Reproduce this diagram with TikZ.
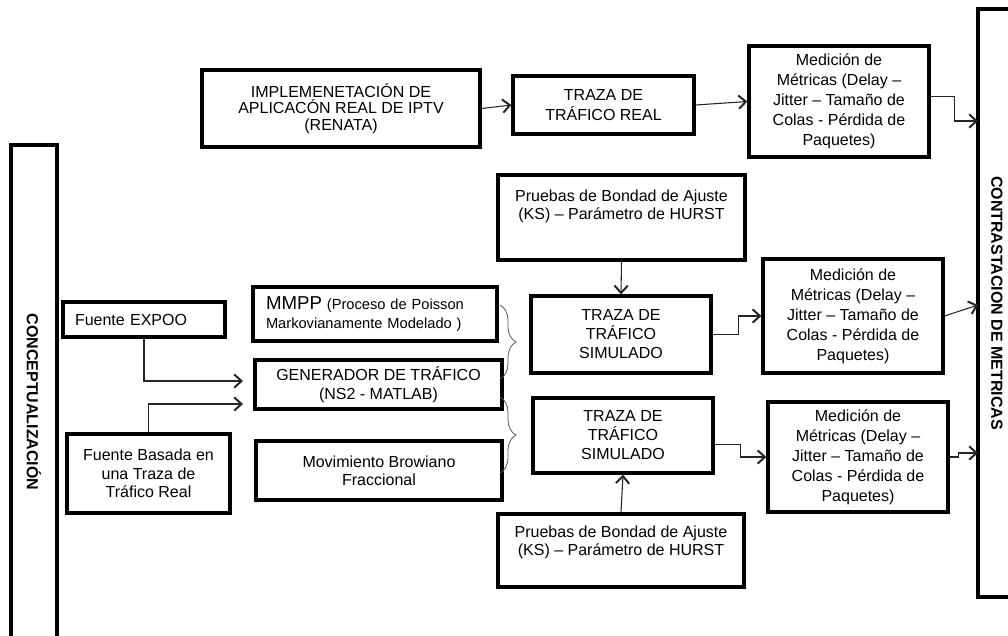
\documentclass[tikz,border=0pt]{standalone}
\usepackage{fontspec}
\setmainfont{Liberation Sans}
\usetikzlibrary{arrows.meta,decorations.pathreplacing}

\begin{document}
\begin{tikzpicture}[x=0.75pt,y=-0.75pt,
        box/.style={draw, line width=2.4pt, align=center, inner sep=0pt, font=\fontsize{12}{14}\selectfont},
        med/.style={box, minimum width=135pt, font=\fontsize{12}{15}\selectfont},
        side/.style={draw, line width=2.4pt, rotate=-90, inner sep=0pt, font=\fontsize{12}{14}\selectfont\bfseries},
        conn/.style={draw, black!85, line width=0.8pt, -{Straight Barb[length=5.5pt,width=10pt,line width=1.5pt]}},
        brc/.style={draw, black!65, line width=0.6pt, decorate, decoration={brace, amplitude=12pt}}]
        \useasboundingbox (0,0) rectangle (1008,636);
        \node[side, minimum width=385.5pt, minimum height=34.5pt] (concep) at (34,402) {CONCEPTUALIZACIÓN};
        \node[side, minimum width=441pt, minimum height=28.5pt] (contrast) at (997,303) {CONTRASTACION DE METRICAS};
        \coordinate (c1) at (978,121);
        \coordinate (c2) at (978,305);
        \coordinate (c3) at (978,453);

        \node[box, minimum width=208.5pt, minimum height=57.75pt, font=\fontsize{12}{12.5}\selectfont] (impl) at (341,108.5) {IMPLEMENETACIÓN DE\\APLICACÓN REAL DE IPTV\\(RENATA)};
        \node[box, minimum width=135.75pt, minimum height=43.5pt, font=\fontsize{12}{15}\selectfont] (trazareal) at (603.5,105) {TRAZA DE\\TRÁFICO REAL};
        \node[med, minimum height=83.25pt] (med1) at (839,101.5) {Medición de\\Métricas (Delay –\\Jitter – Tamaño de\\Colas - Pérdida de\\Paquetes)};

        \node[box, minimum width=185.25pt, text height=33pt, text depth=30.75pt, font=\fontsize{12}{13.5}\selectfont] (prueba1) at (621.5,217.5) {Pruebas de Bondad de Ajuste\\(KS) – Parámetro de HURST};
        \node[box, minimum width=135pt, minimum height=57.75pt, font=\fontsize{12}{14.25}\selectfont] (trazasim1) at (621,334.5) {TRAZA DE\\TRÁFICO\\SIMULADO};
        \node[med, minimum height=85.5pt] (med2) at (853,316) {Medición de\\Métricas (Delay –\\Jitter – Tamaño de\\Colas - Pérdida de\\Paquetes)};

        \node[box, minimum width=135pt, minimum height=56.25pt, font=\fontsize{12}{14.25}\selectfont] (trazasim2) at (623,435.5) {TRAZA DE\\TRÁFICO\\SIMULADO};
        \node[med, minimum height=82.5pt] (med3) at (858,457) {Medición de\\Métricas (Delay –\\Jitter – Tamaño de\\Colas - Pérdida de\\Paquetes)};
        \node[box, minimum width=184.5pt, text height=30.75pt, text depth=24pt, font=\fontsize{12}{13.5}\selectfont] (prueba2) at (621,550.5) {Pruebas de Bondad de Ajuste\\(KS) – Parámetro de HURST};

        \node[box, align=left, text width=163.5pt, inner xsep=9.75pt, minimum height=40.5pt, font=\fontsize{11}{14}\selectfont] (mmpp) at (375,314) {{\fontsize{14}{14}\selectfont MMPP} (Proceso de Poisson\\Markovianamente Modelado )};
        \node[box, minimum width=185.25pt, minimum height=36.75pt, font=\fontsize{12}{14.25}\selectfont] (gen) at (378.5,384.5) {GENERADOR DE TRÁFICO\\(NS2 - MATLAB)};
        \node[box, minimum width=184.5pt, minimum height=44.25pt, font=\fontsize{12}{13.5}\selectfont] (mov) at (379,470.5) {Movimiento Browiano\\Fraccional};

        \node[box, align=left, text width=103.5pt, inner xsep=9pt, minimum height=26.25pt] (expoo) at (144,319.5) {Fuente EXPOO};
        \node[box, minimum width=122.25pt, minimum height=59.25pt] (basada) at (148.5,473.5) {Fuente Basada en\\una Traza de\\Tráfico Real};
        \coordinate (g1) at (243,381);
        \coordinate (g2) at (243,404);

        \path[conn] (impl.east) -- (trazareal.west);
        \path[conn] (trazareal.east) -- (med1.west);
        \path[conn] ([yshift=4pt]med1.east) -- ++(24,0) |- (c1);
        \path[conn] (prueba1.south) -- (trazasim1.north);
        \path[conn] (trazasim1.east) -- ++(26,0) |- (med2.west);
        \path[conn] (med2.east) -- (c2);
        \path[conn] ([yshift=-6.4pt]trazasim2.east) -- ++(26,0) |- (med3.west);
        \path[conn] (med3.east) -- ++(9,0) |- (c3);
        \path[conn] (prueba2.north) -- (trazasim2.south);
        \path[conn] (expoo.south) |- (g1);
        \path[conn] (basada.north) |- (g2);

        \path[brc] (500,305) -- (500,379);
        \path[brc] (500,397) -- (500,473);
    \end{tikzpicture}
\end{document}
